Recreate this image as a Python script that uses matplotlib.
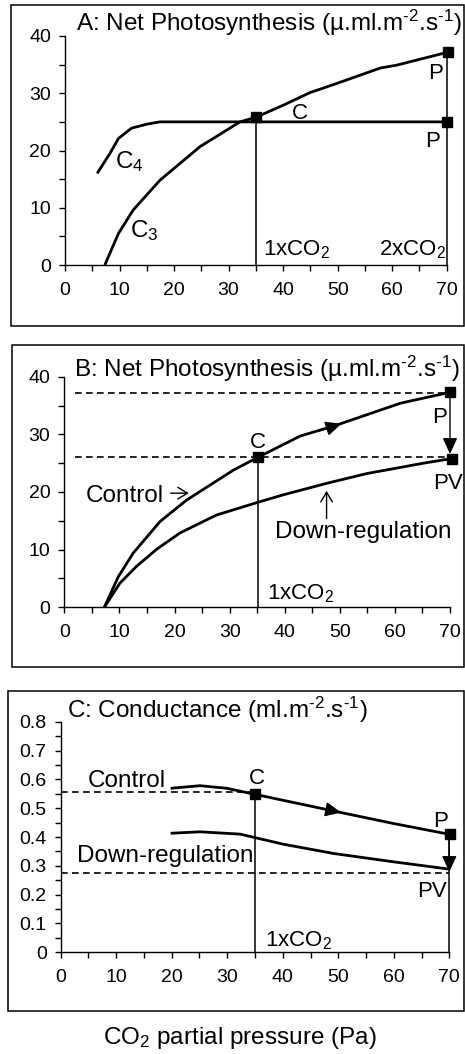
import matplotlib
matplotlib.use("Agg")
import matplotlib.pyplot as plt
from matplotlib.patches import Rectangle
from matplotlib.ticker import MultipleLocator, FuncFormatter

plt.rcParams["font.family"] = ["Liberation Sans", "DejaVu Sans"]
plt.rcParams["mathtext.fontset"] = "custom"
plt.rcParams["mathtext.rm"] = "Liberation Sans"
plt.rcParams["mathtext.it"] = "Liberation Sans:italic"
plt.rcParams["mathtext.bf"] = "Liberation Sans:bold"

# ---- Panel A: net photosynthesis, C3 vs C4 ----
a_c3_x = [7.3, 9.8, 12.5, 17.4, 24.8, 32.1, 35.0, 40.0, 44.9, 49.8, 57.8, 60.8, 70.3]
a_c3_y = [0, 5.5, 9.6, 14.8, 20.7, 25.0, 25.8, 27.9, 30.1, 31.7, 34.4, 34.9, 37.2]
a_c4_x = [5.9, 8.25, 9.8, 12.2, 15.0, 17.4, 70.0]
a_c4_y = [16.0, 19.5, 22.1, 23.9, 24.6, 25.0, 25.0]
a_pts_x = [35.0, 70.3, 70.0]
a_pts_y = [25.8, 37.2, 25.0]

# ---- Panel B: net photosynthesis, control vs down-regulation ----
b_ctrl_x = [7.26, 9.8, 12.5, 17.4, 22.2, 30.7, 35.1, 42.8, 49.4, 54.9, 61.0, 70.0]
b_ctrl_y = [0, 5.3, 9.4, 14.9, 18.6, 23.8, 26.0, 29.7, 31.6, 33.4, 35.4, 37.3]
b_down_x = [7.26, 10.1, 13.1, 16.8, 21.0, 27.6, 35.1, 39.7, 47.6, 54.9, 65.2, 70.3]
b_down_y = [0, 4.2, 7.1, 10.1, 12.9, 16.0, 18.2, 19.5, 21.5, 23.2, 25.0, 25.8]
b_pts_x = [35.1, 70.0, 70.3]
b_pts_y = [26.0, 37.3, 25.8]
b_ref_levels = [37.2, 26.0]

# ---- Panel C: conductance ----
c_ctrl_x = [19.8, 25.1, 29.9, 35.0, 49.7, 59.9, 70.1]
c_ctrl_y = [0.569, 0.578, 0.569, 0.548, 0.488, 0.447, 0.409]
c_down_x = [19.8, 25.1, 32.3, 40.1, 49.1, 59.9, 69.8]
c_down_y = [0.413, 0.418, 0.410, 0.375, 0.343, 0.314, 0.289]
c_pts_x = [35.0, 70.1]
c_pts_y = [0.548, 0.409]
c_ref_control = 0.555
c_ref_down = 0.274

x_ticks = [0, 10, 20, 30, 40, 50, 60, 70]

W, H = 465, 1054
fig = plt.figure(figsize=(W / 100, H / 100), dpi=100)

SUP2 = r"$^{\text{-2}}$"
SUP1 = r"$^{\text{-1}}$"


def px_axes(left, right, top, bottom):
    return fig.add_axes([left / W, 1 - bottom / H, (right - left) / W, (bottom - top) / H])


def frame(left, right, top, bottom):
    fig.patches.append(Rectangle((left / W, 1 - bottom / H), (right - left) / W,
                                 (bottom - top) / H, transform=fig.transFigure,
                                 fill=False, edgecolor="black", linewidth=1.1))


def style(ax, ymax, ymajor, yminor, yfmt=None):
    ax.set_xlim(0, 70)
    ax.set_ylim(0, ymax)
    ax.patch.set_alpha(0)
    for s in ("top", "right"):
        ax.spines[s].set_visible(False)
    for s in ("left", "bottom"):
        ax.spines[s].set_linewidth(1.0)
    ax.set_xticks(x_ticks)
    ax.xaxis.set_minor_locator(MultipleLocator(5))
    ax.yaxis.set_major_locator(MultipleLocator(ymajor))
    ax.yaxis.set_minor_locator(MultipleLocator(yminor))
    ax.tick_params(which="both", direction="out", length=4, width=1.0, labelsize=14)
    ax.tick_params(axis="x", pad=8)
    ax.tick_params(axis="y", pad=6)
    if yfmt:
        ax.yaxis.set_major_formatter(yfmt)


def tri(ax, x0, y0, x1, y1, scale=15):
    ax.annotate("", xy=(x1, y1), xytext=(x0, y0),
                arrowprops=dict(arrowstyle="-|>,head_length=0.65,head_width=0.3",
                                color="black", lw=1.0, mutation_scale=scale,
                                shrinkA=0, shrinkB=0),
                annotation_clip=False)


def openarrow(ax, x0, y0, x1, y1):
    ax.annotate("", xy=(x1, y1), xytext=(x0, y0),
                arrowprops=dict(arrowstyle="->,head_length=0.5,head_width=0.3",
                                color="black", lw=1.0, mutation_scale=14,
                                shrinkA=0, shrinkB=0),
                annotation_clip=False)


curve_kw = dict(color="black", lw=2.0, clip_on=False, solid_capstyle="butt")
thin_kw = dict(color="black", lw=1.1, clip_on=False)
dash_kw = dict(color="black", lw=1.2, dashes=(4, 2.6), clip_on=False)
mark_kw = dict(ls="none", marker="s", ms=6.5, color="black", clip_on=False, zorder=5)
big = 17.5
mid = 16

# ---------------- Panel A ----------------
frame(11, 464, 5, 326)
ax = px_axes(65, 446.7, 36, 265)
style(ax, 40, 10, 5)
ax.plot(a_c3_x, a_c3_y, **curve_kw)
ax.plot(a_c4_x, a_c4_y, **curve_kw)
ax.plot([a_pts_x[0], a_pts_x[0]], [0, a_pts_y[0]], **thin_kw)
ax.plot([70, 70], [0, a_pts_y[1]], **thin_kw)
ax.plot(a_pts_x, a_pts_y, **mark_kw)
ax.text(2.0, 42.3, "A: Net Photosynthesis (µ.ml.m" + SUP2 + ".s" + SUP1 + ")",
        fontsize=big, va="center", ha="left")
ax.text(43.1, 26.5, "C", fontsize=mid, ha="center", va="center")
ax.text(68.0, 33.5, "P", fontsize=mid, ha="center", va="center")
ax.text(67.4, 21.5, "P", fontsize=mid, ha="center", va="center")
ax.text(9.2, 17.0, r"C$_{\mathrm{4}}$", fontsize=big, ha="left", va="baseline")
ax.text(11.9, 4.8, r"C$_{\mathrm{3}}$", fontsize=big, ha="left", va="baseline")
ax.text(36.4, 1.75, r"1xCO$_{\mathrm{2}}$", fontsize=mid, ha="left", va="baseline")
ax.text(57.6, 1.75, r"2xCO$_{\mathrm{2}}$", fontsize=mid, ha="left", va="baseline")

# ---------------- Panel B ----------------
frame(12, 464, 345, 667)
ax = px_axes(64.3, 450, 376.7, 607.3)
style(ax, 40, 10, 5)
for lev in b_ref_levels:
    ax.plot([2, 70], [lev, lev], **dash_kw)
ax.plot(b_ctrl_x, b_ctrl_y, **curve_kw)
ax.plot(b_down_x, b_down_y, **curve_kw)
ax.plot([b_pts_x[0], b_pts_x[0]], [0, b_pts_y[0]], **thin_kw)
tri(ax, 46.0, 30.5, 50.3, 31.85)
tri(ax, 70.0, 37.3, 70.0, 26.6)
ax.plot(b_pts_x, b_pts_y, **mark_kw)
ax.text(1.76, 41.4, "B: Net Photosynthesis (µ.ml.m" + SUP2 + ".s" + SUP1 + ")",
        fontsize=big, va="center", ha="left")
ax.text(35.2, 27.6, "C", fontsize=mid, ha="center", va="baseline")
ax.text(66.8, 31.9, "P", fontsize=mid, ha="left", va="baseline")
ax.text(67.0, 20.6, "PV", fontsize=mid, ha="left", va="baseline")
ax.text(3.9, 18.3, "Control", fontsize=big, ha="left", va="baseline")
openarrow(ax, 19.3, 19.8, 22.6, 19.8)
ax.text(38.2, 12.0, "Down-regulation", fontsize=big, ha="left", va="baseline")
openarrow(ax, 47.6, 15.4, 47.6, 20.2)
ax.text(36.7, 1.4, r"1xCO$_{\mathrm{2}}$", fontsize=mid, ha="left", va="baseline")

# ---------------- Panel C ----------------
frame(8, 464, 691, 1011)
ax = px_axes(60.7, 449.3, 721.7, 952.3)
style(ax, 0.8, 0.1, 0.05,
      yfmt=FuncFormatter(lambda v, p: "0" if abs(v) < 1e-9 else f"{v:.1f}"))
ax.plot([0, 35], [c_ref_control, c_ref_control], **dash_kw)
ax.plot([0, 70], [c_ref_down, c_ref_down], **dash_kw)
ax.plot(c_ctrl_x, c_ctrl_y, **curve_kw)
ax.plot(c_down_x, c_down_y, **curve_kw)
ax.plot([c_pts_x[0], c_pts_x[0]], [0, c_pts_y[0]], **thin_kw)
ax.plot([70, 70], [0, c_pts_y[1]], **thin_kw)
tri(ax, 46.0, 0.503, 50.5, 0.485)
tri(ax, 70.0, 0.409, 70.0, 0.279)
ax.plot(c_pts_x, c_pts_y, **mark_kw)
ax.text(1.08, 0.840, "C: Conductance (ml.m" + SUP2 + ".s" + SUP1 + ")",
        fontsize=big, va="center", ha="left")
ax.text(4.8, 0.572, "Control", fontsize=big, ha="left", va="baseline")
ax.text(35.4, 0.584, "C", fontsize=mid, ha="center", va="baseline")
ax.text(67.1, 0.436, "P", fontsize=mid, ha="left", va="baseline")
ax.text(2.9, 0.314, "Down-regulation", fontsize=big, ha="left", va="baseline")
ax.text(64.2, 0.193, "PV", fontsize=mid, ha="left", va="baseline")
ax.text(36.8, 0.020, r"1xCO$_{\mathrm{2}}$", fontsize=mid, ha="left", va="baseline")

fig.text(240 / W, 1 - 1038 / H, r"CO$_{\mathrm{2}}$ partial pressure (Pa)",
         fontsize=big, ha="center", va="center")

fig.savefig("out.png", dpi=100)
